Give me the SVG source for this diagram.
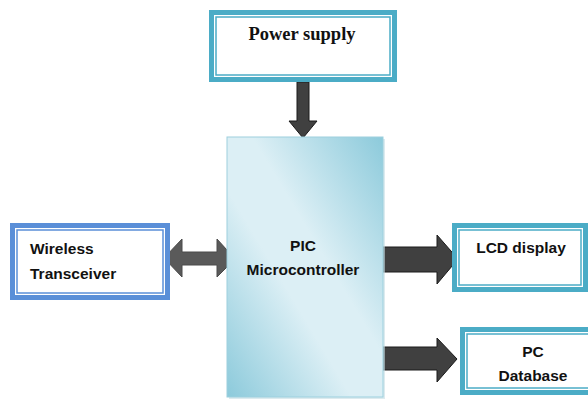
<svg xmlns="http://www.w3.org/2000/svg" width="588" height="399" viewBox="0 0 588 399">
<defs>
<linearGradient id="pic" x1="1" y1="0" x2="0" y2="1">
<stop offset="0" stop-color="#8ccadb"/>
<stop offset="0.42" stop-color="#dceff5"/>
<stop offset="0.6" stop-color="#dceff5"/>
<stop offset="1" stop-color="#8ccadb"/>
</linearGradient>
<style>
.outer{fill:#fff;stroke-width:5}
.inner{fill:none;stroke-width:1.5}
.teal{stroke:#4bacc6}
.blue{stroke:#5a8fd8}
.sans{font-family:"Liberation Sans",Arial,sans-serif;font-weight:bold;font-size:15.5px;fill:#111}
.serif{font-family:"Liberation Serif","Times New Roman",serif;font-weight:bold;font-size:18.5px;fill:#111}
.arrow{fill:#404040;stroke:#1a1a1a;stroke-width:1}
.darr{fill:#5a5a5a;stroke:#4a4a4a;stroke-width:1}
</style>
</defs>
<rect width="588" height="399" fill="#fff"/>
<g id="connectors">
<polygon class="arrow" points="297,82 309,82 309,121 317,121 303,138 289,121 297,121"/>
<polygon class="darr" points="164,258 182,239 182,252 217,252 217,239 227,250 227,267 217,277 217,265 182,265 182,277"/>
<polygon class="arrow" points="380,247 437,247 437,235 458,259 437,284 437,272 380,272"/>
<polygon class="arrow" points="380,347 437,347 437,338 457,359 437,382 437,370 380,370"/>
</g>
<g id="power">
<rect class="outer teal" x="211.5" y="12.5" width="183" height="67"/>
<rect class="inner teal" x="216" y="17" width="174" height="58"/>
<text class="serif" x="302" y="40" text-anchor="middle">Power supply</text>
</g>
<g id="pic-mcu">
<rect x="229" y="139" width="156" height="260" fill="#c5dde4" opacity="0.6"/>
<rect x="227" y="137" width="156" height="260" fill="url(#pic)" stroke="#9dd0de" stroke-width="1"/>
<text class="sans" x="303" y="251" text-anchor="middle">PIC</text>
<text class="sans" x="303" y="275" text-anchor="middle">Microcontroller</text>
</g>
<g id="wireless">
<rect class="outer blue" x="12.5" y="225.5" width="155" height="72"/>
<rect class="inner blue" x="17" y="230" width="146" height="63"/>
<text class="sans" x="30" y="254">Wireless</text>
<text class="sans" x="30" y="279">Transceiver</text>
</g>
<g id="lcd">
<rect class="outer teal" x="454.5" y="225.5" width="131" height="64"/>
<rect class="inner teal" x="459" y="230" width="122" height="55"/>
<text class="sans" x="521" y="253" text-anchor="middle">LCD display</text>
</g>
<g id="pc">
<rect class="outer teal" x="462.5" y="329.5" width="130" height="63"/>
<rect class="inner teal" x="467" y="334" width="130" height="54"/>
<text class="sans" x="533" y="357" text-anchor="middle">PC</text>
<text class="sans" x="533" y="381" text-anchor="middle">Database</text>
</g>
</svg>
